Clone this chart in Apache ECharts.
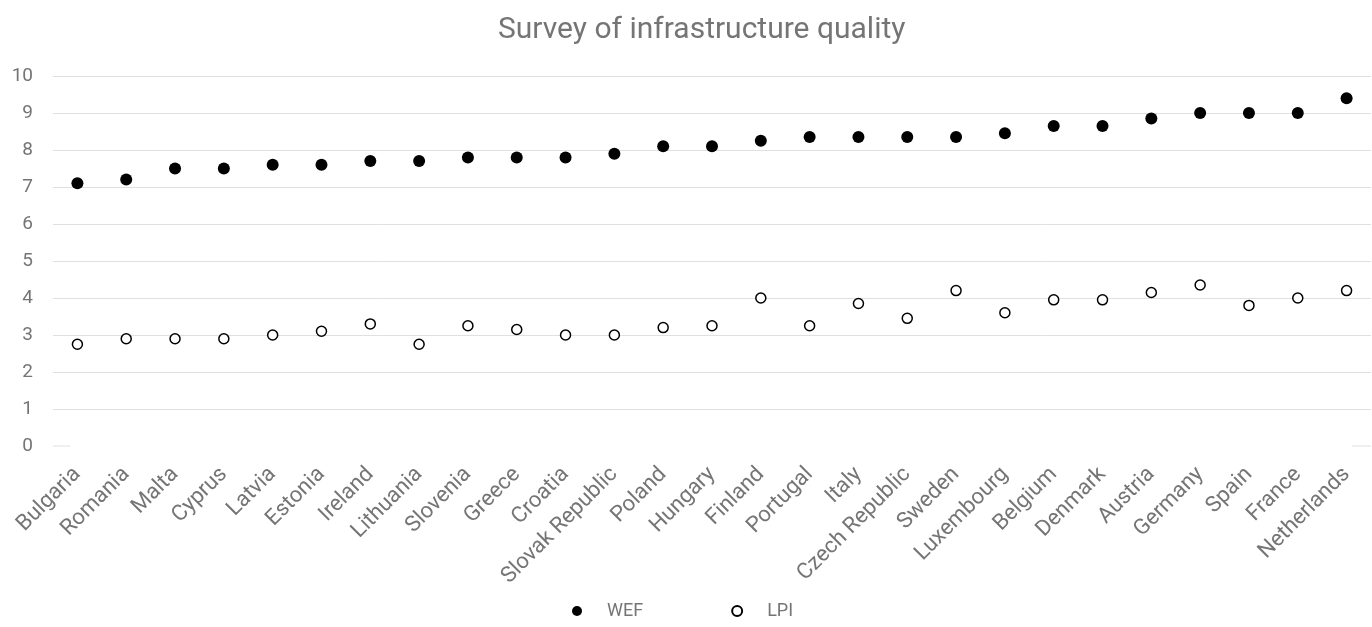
<!DOCTYPE html>
<html>
<head>
<meta charset="utf-8">
<script src="https://cdn.jsdelivr.net/npm/echarts@6/dist/echarts.min.js"></script>
<style>
  html, body { margin: 0; padding: 0; background: #fff; }
  #chart { width: 1372px; height: 627px; }
</style>
</head>
<body>
<div id="chart"></div>
<script>
// Countries ordered by their WEF score
const countries = [
  'Bulgaria', 'Romania', 'Malta', 'Cyprus', 'Latvia', 'Estonia', 'Ireland',
  'Lithuania', 'Slovenia', 'Greece', 'Croatia', 'Slovak Republic', 'Poland',
  'Hungary', 'Finland', 'Portugal', 'Italy', 'Czech Republic', 'Sweden',
  'Luxembourg', 'Belgium', 'Denmark', 'Austria', 'Germany', 'Spain', 'France',
  'Netherlands'
];

// WEF infrastructure quality score
const wef = [
  7.1, 7.2, 7.5, 7.5, 7.6, 7.6, 7.7, 7.7, 7.8, 7.8, 7.8, 7.9, 8.1, 8.1,
  8.25, 8.35, 8.35, 8.35, 8.35, 8.45, 8.65, 8.65, 8.85, 9.0, 9.0, 9.0, 9.4
];

// LPI infrastructure score
const lpi = [
  2.75, 2.9, 2.9, 2.9, 3.0, 3.1, 3.3, 2.75, 3.25, 3.15, 3.0, 3.0, 3.2, 3.25,
  4.0, 3.25, 3.85, 3.45, 4.2, 3.6, 3.95, 3.95, 4.15, 4.35, 3.8, 4.0, 4.2
];

const yTicks = [0, 1, 2, 3, 4, 5, 6, 7, 8, 9, 10];

const FONT = 'Roboto, "Noto Sans", sans-serif';
const TEXT = '#757575';
const GRID = '#e0e0e0';

const chart = echarts.init(document.getElementById('chart'), null, { renderer: 'canvas' });

// every gridline except the baseline, which only shows short end stubs
const splitColors = yTicks.map(v => v === 0 ? 'rgba(0,0,0,0)' : GRID);

chart.setOption({
  animation: false,
  backgroundColor: '#fff',
  title: {
    text: 'Survey of infrastructure quality',
    left: 493,
    top: 10,
    textStyle: { fontFamily: FONT, fontSize: 30, fontWeight: 'normal', color: TEXT }
  },
  legend: {
    bottom: 2,
    left: 567,
    itemWidth: 50,
    itemHeight: 10,
    itemGap: 88,
    textStyle: { fontFamily: FONT, fontSize: 18, color: TEXT },
    data: ['WEF', 'LPI']
  },
  grid: { left: 53, right: 1, top: 76, bottom: 181 },
  xAxis: {
    type: 'category',
    data: countries,
    boundaryGap: true,
    axisLine: { show: false },
    axisTick: { show: false },
    axisLabel: {
      interval: 0,
      rotate: 45,
      margin: 25,
      fontFamily: FONT,
      fontSize: 22,
      color: TEXT
    }
  },
  yAxis: {
    type: 'value',
    min: yTicks[0],
    max: yTicks[yTicks.length - 1],
    interval: 1,
    axisLine: { show: false },
    axisTick: { show: false },
    axisLabel: { margin: 20, fontFamily: FONT, fontSize: 19, color: TEXT },
    splitLine: { lineStyle: { color: splitColors, width: 1 } }
  },
  series: [
    {
      name: 'WEF',
      type: 'scatter',
      data: wef,
      symbol: 'circle',
      symbolSize: 12,
      itemStyle: { color: '#000', opacity: 1 }
    },
    {
      name: 'LPI',
      type: 'scatter',
      data: lpi,
      symbol: 'circle',
      symbolSize: 10,
      itemStyle: { color: '#fff', borderColor: '#000', borderWidth: 1.5, opacity: 1 }
    }
  ]
});

// short baseline stubs at both ends of the zero line
const y0 = chart.convertToPixel({ yAxisIndex: 0 }, 0);
const gridRect = chart.getModel().getComponent('grid', 0).coordinateSystem.getRect();
chart.setOption({
  graphic: [
    {
      type: 'line',
      shape: { x1: gridRect.x, y1: y0, x2: gridRect.x + 17, y2: y0 },
      style: { stroke: GRID, lineWidth: 1 }
    },
    {
      type: 'line',
      shape: { x1: gridRect.x + gridRect.width - 19, y1: y0, x2: gridRect.x + gridRect.width, y2: y0 },
      style: { stroke: GRID, lineWidth: 1 }
    }
  ]
});
</script>
</body>
</html>
